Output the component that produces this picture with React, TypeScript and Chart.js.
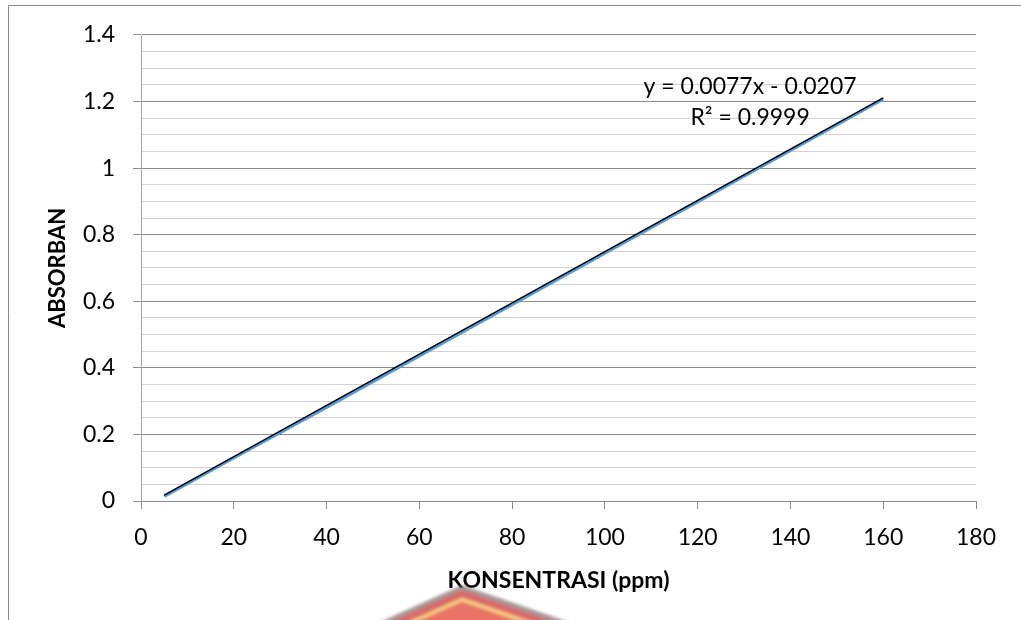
import React, { useEffect, useRef } from "react";
import { Chart, registerables } from "chart.js";

Chart.register(...registerables);

const concentrations = [5, 10, 20, 40, 80, 160];
const absorbance = [0.014, 0.052, 0.129, 0.281, 0.590, 1.207];

// Linear trendline endpoints (from y = 0.0077x - 0.0207)
const trendX = [5, 160];
const trendY = [0.0178, 1.2113];

// Axis ticks
const xTicks = [0, 20, 40, 60, 80, 100, 120, 140, 160, 180];
const yMajorTicks = ["0", "0.2", "0.4", "0.6", "0.8", "1", "1.2", "1.4"];

// Texts
const xTitle = "KONSENTRASI (ppm)";
const yTitle = "ABSORBAN";
const equationLines = ["y = 0.0077x - 0.0207", "R² = 0.9999"];
const equationAnchorX = 131.3;
const equationAnchorY = [1.244, 1.153];

const FONT = "Lato, 'Open Sans', sans-serif";

const isMajor = (v: number) => Math.abs(v / 0.2 - Math.round(v / 0.2)) < 1e-6;

const decorPlugin = {
  id: "decor",
  beforeDraw(chart: any) {
    const ctx = chart.ctx;
    ctx.save();
    ctx.fillStyle = "#ffffff";
    ctx.fillRect(0, 0, chart.width, chart.height);
    ctx.strokeStyle = "#8a8a8a";
    ctx.lineWidth = 1;
    ctx.beginPath();
    ctx.moveTo(8.5, 620);
    ctx.lineTo(8.5, 5.5);
    ctx.lineTo(1021, 5.5);
    ctx.stroke();
    ctx.restore();
  },
  afterDraw(chart: any) {
    const ctx = chart.ctx;
    const xs = chart.scales.x;
    const ys = chart.scales.y;
    ctx.save();
    ctx.fillStyle = "#000000";
    ctx.font = `23px ${FONT}`;
    ctx.textAlign = "center";
    ctx.textBaseline = "middle";
    equationLines.forEach((line, i) => {
      ctx.fillText(line, xs.getPixelForValue(equationAnchorX), ys.getPixelForValue(equationAnchorY[i]));
    });
    // partial watermark logo at the bottom
    const bands = [
      { dy: 0, c: "rgba(140,120,120,0.75)" },
      { dy: 5, c: "rgba(230,95,95,0.8)" },
      { dy: 12, c: "rgba(248,215,130,0.85)" },
      { dy: 17, c: "rgba(230,95,95,0.8)" },
    ];
    const ax = 462;
    const ay = 585;
    ctx.filter = "blur(1.5px)";
    bands.forEach((b) => {
      ctx.fillStyle = b.c;
      ctx.beginPath();
      ctx.moveTo(ax, ay + b.dy);
      ctx.lineTo(ax + 130, ay + b.dy + 45);
      ctx.lineTo(ax - 100, ay + b.dy + 45);
      ctx.closePath();
      ctx.fill();
    });
    ctx.restore();
  },
};

export default function App() {
  const ref = useRef<HTMLCanvasElement | null>(null);

  useEffect(() => {
    document.body.style.margin = "0";
    if (!ref.current) return;
    const chart = new Chart(ref.current, {
      type: "line",
      data: {
        datasets: [
          {
            label: "Linear",
            data: trendX.map((x, i) => ({ x, y: trendY[i] })),
            borderColor: "#000000",
            borderWidth: 1.5,
            pointRadius: 0,
            fill: false,
          },
          {
            label: "Absorban",
            data: concentrations.map((x, i) => ({ x, y: absorbance[i] })),
            borderColor: "#5b9bd5",
            borderWidth: 3,
            pointRadius: 0,
            fill: false,
          },
        ],
      },
      options: {
        animation: false,
        responsive: false,
        layout: { padding: { left: 0, top: 35, right: 45, bottom: 0 } },
        plugins: { legend: { display: false }, tooltip: { enabled: false } },
        scales: {
          x: {
            type: "linear",
            min: 0,
            max: 180,
            afterBuildTicks: (scale: any) => {
              scale.ticks = xTicks.map((v) => ({ value: v }));
            },
            afterFit: (scale: any) => {
              scale.height = 119;
            },
            ticks: {
              color: "#000000",
              font: { family: FONT, size: 23 },
              padding: 15,
              maxRotation: 0,
              autoSkip: false,
            },
            grid: {
              drawOnChartArea: false,
              drawTicks: true,
              tickLength: 8,
              tickColor: "#8c8c8c",
            },
            border: { display: true, color: "#8c8c8c" },
            title: {
              display: true,
              text: xTitle,
              color: "#000000",
              font: { family: FONT, size: 23, weight: "bold" },
              padding: { top: 0, bottom: 26 },
            },
          },
          y: {
            type: "linear",
            min: 0,
            max: 1.4,
            afterBuildTicks: (scale: any) => {
              const t = [];
              for (let i = 0; i <= 28; i++) t.push({ value: i * 0.05 });
              scale.ticks = t;
            },
            afterFit: (scale: any) => {
              scale.width = 141;
            },
            ticks: {
              color: "#000000",
              font: { family: FONT, size: 23 },
              padding: 18,
              autoSkip: false,
              callback: (v: any) => {
                const n = Number(v);
                if (!isMajor(n)) return "";
                return yMajorTicks[Math.round(n / 0.2)];
              },
            },
            grid: {
              color: (c: any) => (isMajor(c.tick.value) ? "#8c8c8c" : "#d2d2d2"),
              tickColor: (c: any) => (isMajor(c.tick.value) ? "#8c8c8c" : "rgba(0,0,0,0)"),
              tickLength: 8,
              lineWidth: 1,
            },
            border: { display: true, color: "#a6a6a6" },
            title: {
              display: true,
              text: yTitle,
              color: "#000000",
              font: { family: FONT, size: 22, weight: "bold" },
              padding: { top: 45, bottom: 0 },
            },
          },
        },
      },
      plugins: [decorPlugin],
    });
    return () => chart.destroy();
  }, []);

  return (
    <div style={{ position: "absolute", left: 0, top: 0, width: 1021, height: 620 }}>
      <canvas ref={ref} width={1021} height={620} style={{ width: 1021, height: 620 }} />
    </div>
  );
}
